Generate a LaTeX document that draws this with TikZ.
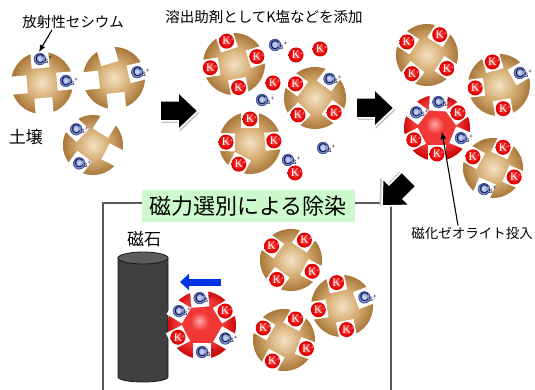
\documentclass[tikz,border=0pt]{standalone}
\usepackage{fontspec}
\newfontfamily\jfont{Noto Sans CJK JP}
\newfontfamily\ionserif{Liberation Serif}
\newfontfamily\ionsans{Liberation Sans}
\usetikzlibrary{arrows.meta}
\definecolor{soilL}{RGB}{244,226,196}
\definecolor{soilM}{RGB}{216,176,120}
\definecolor{soilD}{RGB}{170,120,58}
\definecolor{zeoL}{RGB}{255,165,165}
\definecolor{zeoM}{RGB}{242,55,55}
\definecolor{zeoD}{RGB}{205,10,10}
\definecolor{kL}{RGB}{255,95,95}
\definecolor{kD}{RGB}{228,0,0}
\definecolor{csL}{RGB}{215,225,250}
\definecolor{csD}{RGB}{95,120,190}
\definecolor{csEdge}{RGB}{40,60,130}
\definecolor{csInk}{RGB}{15,15,70}
\definecolor{titlegreen}{RGB}{204,250,204}
\definecolor{framegray}{RGB}{90,90,90}
\definecolor{magBody}{RGB}{64,64,64}
\definecolor{magTop}{RGB}{92,92,92}
\definecolor{magEdge}{RGB}{25,25,25}
\definecolor{pullblue}{RGB}{0,51,230}

\pgfdeclareradialshading{soilshade}{\pgfpoint{0bp}{0bp}}{color(0bp)=(soilL); color(12bp)=(soilM); color(25bp)=(soilD); color(50bp)=(soilD)}
\pgfdeclareradialshading{zeoshade}{\pgfpoint{-2bp}{3bp}}{color(0bp)=(zeoL); color(7bp)=(zeoM); color(17bp)=(zeoM); color(25bp)=(zeoD); color(50bp)=(zeoD)}
\pgfdeclareradialshading{kshade}{\pgfpoint{-2bp}{2bp}}{color(0bp)=(kL); color(20bp)=(kD); color(50bp)=(kD)}
\pgfdeclareradialshading{csshade}{\pgfpoint{-3bp}{3bp}}{color(0bp)=(csL); color(25bp)=(csD); color(50bp)=(csD)}

\newcommand{\csrest}{{\fontsize{8}{8}\selectfont s\raisebox{3.5pt}{\fontsize{6}{6}\selectfont +}}}
\newcommand{\krest}{\raisebox{3pt}{\fontsize{6}{6}\selectfont +}}

% grain: centre, shading, radius, slots (angle/ion); every slot is a square notch
\newcommand{\grain}[4]{%
  \shade[shading=#2] (#1) circle (#3);
  \foreach \a/\t in {#4} {
    \fill[white] ([shift={(\a:{#3-7})},shift={(\a+45:12.7)}] #1)
      -- ([shift={(\a:{#3-7})},shift={(\a+135:12.7)}] #1)
      -- ([shift={(\a:{#3-7})},shift={(\a+225:12.7)}] #1)
      -- ([shift={(\a:{#3-7})},shift={(\a+315:12.7)}] #1) -- cycle;
    \pic at ([shift={(\a:{#3-7})}] #1) {\t};
  }
}

\tikzset{
  ktext/.style={inner sep=0,text=white,font=\ionserif\fontsize{11.5}{11.5}\selectfont},
  cstext/.style={inner sep=0,text=csInk,font=\ionsans\fontsize{12.5}{12.5}\selectfont},
  jlabel/.style={inner sep=0,font=\jfont\fontsize{14.5}{16}\selectfont},
  tag/.style={line width=1.1pt,-{Latex[length=7pt,width=6pt]}},
  frame/.style={draw=framegray,line width=1.2pt},
  titlebox/.style={fill=titlegreen,minimum width=213pt,minimum height=32pt,inner sep=0,
    font=\jfont\fontsize{22}{24}\selectfont},
  pull/.style={draw=pullblue,line width=7pt,-{Triangle[length=9pt,width=16pt]}},
  noion/.pic={},
  kion/.pic={\shade[shading=kshade] (0,0) circle (7.5);
    \node[ktext] at (0,0) {\phantom{\krest}K\krest};},
  csion/.pic={\shadedraw[shading=csshade,draw=csEdge,line width=0.5pt] (0,0) circle (5.8);
    \node[cstext] at (0,0) {\phantom{\csrest}C\csrest};},
  push/.pic={
    \fill[black!22,shift={(1.5,2)}] (-38,-10) -- (-20,-10) -- (-20,-19) -- (0,0)
      -- (-20,19) -- (-20,10) -- (-38,10) -- cycle;
    \filldraw[fill=black,draw=white,line width=1.5pt] (-38,-10) -- (-20,-10) -- (-20,-19)
      -- (0,0) -- (-20,19) -- (-20,10) -- (-38,10) -- cycle;
  },
}

\begin{document}
\begin{tikzpicture}[x=1pt,y=-1pt,>=Latex]
  \useasboundingbox (0,0) rectangle (535,390);

  % soil before washing
  \grain{42,83}{soilshade}{31}{-95/csion,-5/csion,85/noion,175/noion}
  \grain{114,78}{soilshade}{31}{-106/noion,-14/csion,84/noion,174/noion}
  \grain{93,145}{soilshade}{30}{-137/csion,-58/noion,27/noion,127/csion}
  \node[jlabel] (csLbl) at (73,22) {放射性セシウム};
  \node[jlabel,font=\jfont\fontsize{17}{19}\selectfont] (soilLbl) at (26,137) {土壌};
  \coordinate (csTag) at (39,52);
  \draw[tag] ([xshift=-21pt,yshift=-1pt]csLbl.south) -- (csTag);

  % K salt added
  \node[jlabel] (saltLbl) at (264,17) {溶出助剤としてK塩などを添加};
  \grain{234,64}{soilshade}{31}{-108/kion,-18/kion,79/kion,171/kion}
  \grain{315,98}{soilshade}{31}{-144/kion,-53/csion,37/kion,135/kion}
  \grain{250,143}{soilshade}{31}{-90/kion,-5/kion,118/kion,182/kion}
  \foreach \x/\y in {275/45,262/100,323/148,288/160}
    \pic at (\x,\y) {csion};
  \foreach \x/\y in {296/55,320/49,273/83,295/173}
    \pic at (\x,\y) {kion};

  % zeolite added
  \grain{427,55}{soilshade}{31}{-147/kion,-58/kion,34/kion,129/kion}
  \grain{499,85}{soilshade}{31}{-106/kion,-30/csion,80/kion,173/kion}
  \grain{437,128}{zeoshade}{33}{-36/kion,23/csion,90/kion,153/kion,-87/csion,-143/csion}
  \grain{493,168}{soilshade}{30}{-151/kion,-64/kion,23/kion,113/csion}
  \node[jlabel,font=\jfont\fontsize{13.5}{15}\selectfont] (zeoLbl) at (472,233) {磁化ゼオライト投入};
  \coordinate (zeoTag) at (442,132);
  \draw[tag] ([xshift=-14pt,yshift=1pt]zeoLbl.north) -- (zeoTag);

  % magnetic separation
  \draw[frame] (391,392) -- (391,203) -- (103,203) -- (103,392);
  \node[titlebox] (title) at (248,206) {磁力選別による除染};
  \node[jlabel,font=\jfont\fontsize{17}{19}\selectfont] (magLbl) at (144,239) {磁石};
  \filldraw[fill=magBody,draw=magEdge,line width=0.8pt] (118,258) -- (118,377)
    arc[start angle=180,end angle=0,x radius=25,y radius=5] -- (168,258) -- cycle;
  \filldraw[fill=magTop,draw=magEdge,line width=0.8pt] (143,258) ellipse [x radius=25,y radius=6];
  \coordinate (pullA) at (221,282);
  \coordinate (pullB) at (180,282);
  \draw[pull] (pullA) -- (pullB);
  \grain{202,325}{zeoshade}{34}{-31/kion,153/kion,30/csion,-95/csion,-149/csion,90/csion}
  \grain{291,260}{soilshade}{31}{-144/kion,-56/kion,28/kion,126/kion}
  \grain{342,306}{soilshade}{31}{-103/kion,-21/csion,79/kion,171/kion}
  \grain{284,340}{soilshade}{31}{-150/kion,-61/kion,21/kion,119/kion}

  % step arrows
  \pic at (198,111) {push};
  \pic at (394,108) {push};
  \pic[rotate=225] at (382,206) {push};
\end{tikzpicture}
\end{document}
